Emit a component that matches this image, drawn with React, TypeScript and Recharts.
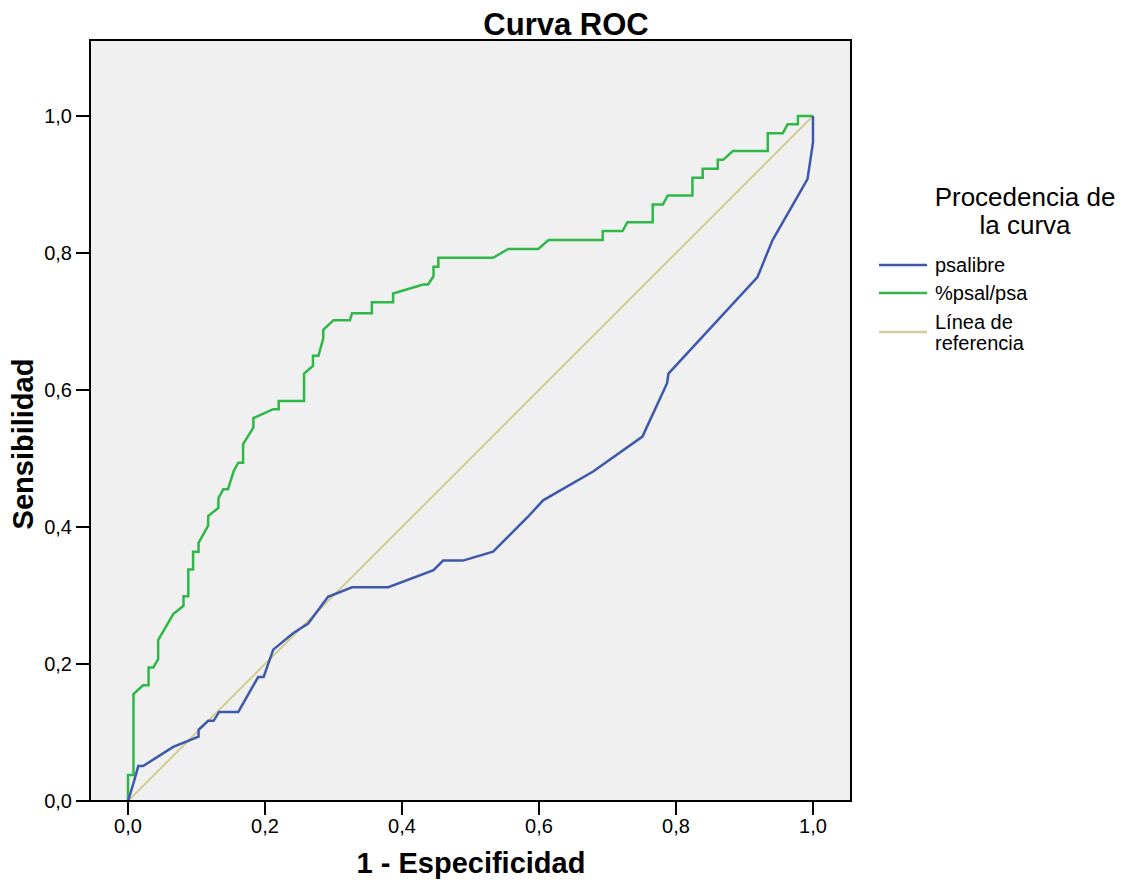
import React from 'react';
import { LineChart, Line, XAxis, YAxis, CartesianGrid, ReferenceArea } from 'recharts';

// 1 - especificidad / sensibilidad, psalibre
const psalibreX = [0, 0.008, 0.015, 0.022, 0.066, 0.103, 0.103, 0.117, 0.125, 0.133, 0.161, 0.19, 0.198, 0.212, 0.241, 0.263, 0.292, 0.327, 0.38, 0.446, 0.46, 0.489, 0.533, 0.584, 0.606, 0.679, 0.751, 0.787, 0.789, 0.919, 0.941, 0.992, 1, 1];
const psalibreY = [0, 0.026, 0.051, 0.051, 0.079, 0.094, 0.104, 0.117, 0.117, 0.13, 0.13, 0.181, 0.181, 0.221, 0.245, 0.259, 0.298, 0.312, 0.312, 0.337, 0.351, 0.351, 0.364, 0.415, 0.439, 0.481, 0.532, 0.61, 0.624, 0.765, 0.819, 0.908, 0.961, 1];

// %psal/psa
const psalX = [0, 0, 0.008, 0.008, 0.022, 0.03, 0.03, 0.037, 0.044, 0.044, 0.066, 0.081, 0.081, 0.088, 0.088, 0.095, 0.095, 0.103, 0.103, 0.117, 0.117, 0.132, 0.132, 0.139, 0.146, 0.154, 0.161, 0.168, 0.168, 0.183, 0.183, 0.212, 0.22, 0.22, 0.257, 0.257, 0.27, 0.27, 0.278, 0.285, 0.285, 0.3, 0.324, 0.327, 0.356, 0.356, 0.387, 0.387, 0.431, 0.438, 0.446, 0.446, 0.453, 0.453, 0.533, 0.555, 0.599, 0.614, 0.693, 0.693, 0.722, 0.729, 0.766, 0.766, 0.781, 0.788, 0.824, 0.824, 0.839, 0.839, 0.861, 0.861, 0.869, 0.883, 0.934, 0.934, 0.956, 0.963, 0.978, 0.978, 1];
const psalY = [0, 0.038, 0.038, 0.156, 0.169, 0.169, 0.195, 0.195, 0.207, 0.235, 0.273, 0.285, 0.299, 0.299, 0.338, 0.338, 0.364, 0.364, 0.377, 0.402, 0.416, 0.428, 0.442, 0.455, 0.455, 0.481, 0.494, 0.494, 0.521, 0.545, 0.559, 0.572, 0.572, 0.584, 0.584, 0.624, 0.635, 0.65, 0.65, 0.675, 0.688, 0.702, 0.702, 0.712, 0.712, 0.728, 0.728, 0.741, 0.754, 0.754, 0.766, 0.78, 0.78, 0.793, 0.793, 0.806, 0.806, 0.819, 0.819, 0.832, 0.832, 0.845, 0.845, 0.871, 0.871, 0.884, 0.884, 0.91, 0.91, 0.923, 0.923, 0.936, 0.936, 0.949, 0.949, 0.975, 0.975, 0.988, 0.988, 1, 1];

// línea de referencia
const refX = [0, 1];
const refY = [0, 1];

const ticks = [0, 0.2, 0.4, 0.6, 0.8, 1];

const toPoints = (xs: number[], ys: number[]) => xs.map((x, i) => ({ x, y: ys[i] }));

const font = '"Liberation Sans", Arial, sans-serif';
const fmt = (v: number) => v.toFixed(1).replace('.', ',');

const legendItems = [
  { label: ['psalibre'], color: '#3E58AC', y: 265 },
  { label: ['%psal/psa'], color: '#2EB848', y: 293 },
  { label: ['Línea de', 'referencia'], color: '#D3CE97', y: 332 },
];

export default function App() {
  const axisProps = {
    type: 'number' as const,
    ticks,
    allowDataOverflow: true,
    tickFormatter: fmt,
    tickSize: 14,
    tick: { fill: '#000', fontSize: 20, fontFamily: font },
    axisLine: { stroke: '#000', strokeWidth: 2 },
    tickLine: { stroke: '#000', strokeWidth: 2 },
  };
  return (
    <div style={{ position: 'absolute', left: 0, top: 0, width: 1136, height: 884, background: '#fff' }}>
      <LineChart width={1136} height={884} margin={{ top: 40, right: 285, bottom: 0, left: 0 }}>
        <CartesianGrid fill="#F0F0F0" stroke="none" />
        <XAxis {...axisProps} dataKey="x" domain={[-0.0555, 1.0555]} height={83} tickMargin={4} />
        <YAxis {...axisProps} dataKey="y" domain={[0, 1.111]} width={90} tickMargin={4} />
        <ReferenceArea x1={-0.0555} x2={1.0555} y1={0} y2={1.111} fill="none" stroke="#000" strokeWidth={2} ifOverflow="visible" />
        <Line data={toPoints(refX, refY)} dataKey="y" type="linear" stroke="#D3CE97" strokeWidth={2.2} dot={false} isAnimationActive={false} />
        <Line data={toPoints(psalX, psalY)} dataKey="y" type="linear" stroke="#2EB848" strokeWidth={2.5} dot={false} isAnimationActive={false} />
        <Line data={toPoints(psalibreX, psalibreY)} dataKey="y" type="linear" stroke="#3E58AC" strokeWidth={2.5} dot={false} isAnimationActive={false} />
      </LineChart>
      <svg width={1136} height={884} style={{ position: 'absolute', left: 0, top: 0, pointerEvents: 'none' }} fontFamily={font}>
        <text x={566} y={35} textAnchor="middle" fontSize={31} fontWeight="bold">Curva ROC</text>
        <text x={471} y={873} textAnchor="middle" fontSize={29} fontWeight="bold">1 - Especificidad</text>
        <text x={33} y={444} textAnchor="middle" fontSize={29} fontWeight="bold" transform="rotate(-90 33 444)">Sensibilidad</text>
        <text x={1025} y={206} textAnchor="middle" fontSize={26}>Procedencia de</text>
        <text x={1025} y={234} textAnchor="middle" fontSize={26}>la curva</text>
        {legendItems.map((it) => (
          <g key={it.label[0]}>
            <line x1={879} x2={927} y1={it.y} y2={it.y} stroke={it.color} strokeWidth={2.5} />
            {it.label.map((t, i) => (
              <text key={t} x={935} y={it.label.length > 1 ? it.y - 3 + i * 21 : it.y + 7} fontSize={20}>{t}</text>
            ))}
          </g>
        ))}
      </svg>
    </div>
  );
}
